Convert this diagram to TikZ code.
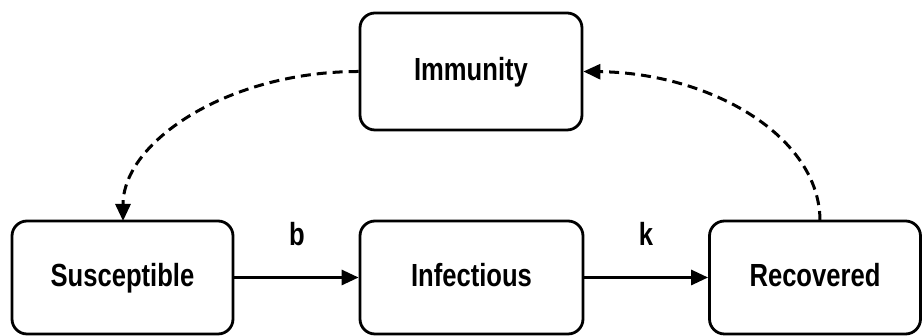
\documentclass[tikz,border=0pt]{standalone}
\usepackage{fontspec}
\setmainfont[FakeStretch=0.8]{Liberation Sans}
\usetikzlibrary{arrows.meta}
\begin{document}
\begin{tikzpicture}[x=1pt,y=1pt,
  box/.style={draw,line width=2.8pt,rounded corners=15pt,inner sep=0pt,
    text height=23pt,text depth=5pt,
    font=\fontsize{32}{38}\selectfont\bfseries},
  flow/.style={line width=3pt,-{Triangle[length=17pt,width=15pt]}},
  back/.style={line width=3pt,dash pattern=on 10pt off 6pt,-{Triangle[length=17pt,width=15pt]}},
  lbl/.style={font=\fontsize{32}{38}\selectfont\bfseries,inner sep=0pt}]
\useasboundingbox (0,0) rectangle (922,336);
\node[box,minimum width=222pt,minimum height=117pt] (imm) at (471,264.5) {Immunity};
\node[box,minimum width=221pt,minimum height=113pt] (sus) at (122.5,58.5) {Susceptible};
\node[box,minimum width=223pt,minimum height=113pt] (inf) at (471.5,58.5) {Infectious};
\node[box,minimum width=211pt,minimum height=113pt] (rec) at (815,58.5) {Recovered};
\draw[flow] (sus.east) -- (inf.west);
\draw[flow] (inf.east) -- (rec.west);
\node[lbl] (b) at (297,102) {b};
\node[lbl] (k) at (646,102) {k};
\coordinate (susin) at (123,115);
\coordinate (recout) at (820,115);
\draw[back] (imm.west) .. controls (229,264.5) and (123,195) .. (susin);
\draw[back] (recout) .. controls (820,200) and (710,263) .. (imm.east);
\end{tikzpicture}
\end{document}
